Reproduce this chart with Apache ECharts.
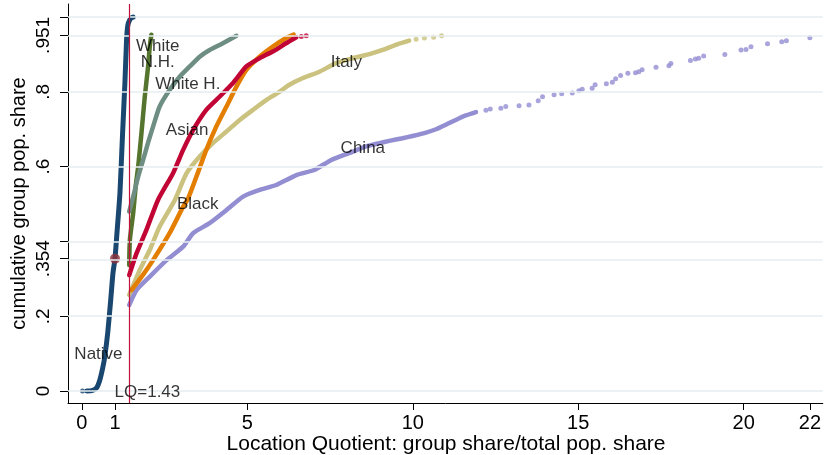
<!DOCTYPE html>
<html>
<head>
<meta charset="utf-8">
<script src="https://cdn.jsdelivr.net/npm/echarts@6/dist/echarts.min.js"></script>
<style>
  html, body { margin: 0; padding: 0; background: #fff; }
  #chart { width: 824px; height: 455px; }
</style>
</head>
<body>
<div id="chart"></div>
<script>
// Axis ticks and labels
const xTicks = [0, 1, 5, 10, 15, 20, 22];
const yTicks = [0, 0.2, 0.354, 0.4, 0.6, 0.8, 0.951, 1];
const yTickLabels = [0, 0.2, 0.354, 0.6, 0.8, 0.951];

// Reference marks
const lqCut = 1.43;
const nativeMedian = [[1, 0.354]];

// Cumulative population share by location quotient, per group
const nativeCurve = [[0.15, 0], [0.30, 0.001], [0.44, 0.008], [0.54, 0.029], [0.63, 0.062], [0.69, 0.091],
  [0.78, 0.155], [0.87, 0.243], [0.94, 0.316], [1.00, 0.354], [1.06, 0.423], [1.15, 0.53], [1.23, 0.69],
  [1.30, 0.824], [1.35, 0.939], [1.39, 0.979], [1.45, 0.993], [1.50, 0.998], [1.55, 1.0]];
const nativeDots = [[0.02, 0]];

const whiteNHCurve = [[1.43, 0.337], [1.45, 0.404], [1.55, 0.476], [1.63, 0.551], [1.70, 0.599], [1.80, 0.690],
  [1.90, 0.787], [2.00, 0.867], [2.05, 0.920], [2.10, 0.953]];

const whiteHCurve = [[1.43, 0.480], [1.55, 0.520], [1.70, 0.573], [1.85, 0.618], [2.00, 0.664], [2.15, 0.707],
  [2.35, 0.761], [2.65, 0.805], [2.96, 0.841], [3.26, 0.868], [3.56, 0.894], [3.86, 0.912], [4.26, 0.930],
  [4.67, 0.950]];

const blackCurve = [[1.50, 0.270], [1.84, 0.310], [2.15, 0.350], [2.65, 0.422], [3.06, 0.493], [3.21, 0.515],
  [3.46, 0.573], [3.76, 0.645], [4.06, 0.707], [4.37, 0.761], [4.67, 0.814], [4.97, 0.859], [5.37, 0.894],
  [5.77, 0.921], [6.17, 0.944], [6.40, 0.953]];

const asianCurve = [[1.43, 0.310], [1.65, 0.368], [1.95, 0.431], [2.30, 0.511], [2.75, 0.582], [3.06, 0.645],
  [3.36, 0.698], [3.76, 0.752], [4.16, 0.787], [4.56, 0.823], [4.97, 0.868], [5.37, 0.890], [5.77, 0.908],
  [6.17, 0.930], [6.48, 0.946]];
const asianDots = [[6.63, 0.948], [6.78, 0.950]];

const italyCurve = [[1.43, 0.257], [1.75, 0.324], [2.05, 0.377], [2.35, 0.440], [2.81, 0.511], [3.16, 0.582],
  [3.56, 0.627], [3.96, 0.663], [4.37, 0.694], [4.77, 0.725], [5.17, 0.752], [5.57, 0.778], [5.97, 0.800],
  [6.27, 0.819], [6.68, 0.837], [7.18, 0.854], [7.68, 0.877], [8.18, 0.890], [8.69, 0.901], [9.09, 0.912],
  [9.49, 0.926], [9.89, 0.937]];
const italyDots = [[10.10, 0.941], [10.35, 0.944], [10.63, 0.946], [10.87, 0.950]];

const chinaCurve = [[1.43, 0.230], [1.65, 0.270], [2.05, 0.306], [2.56, 0.350], [3.06, 0.386], [3.36, 0.422],
  [3.86, 0.449], [4.37, 0.484], [4.87, 0.520], [5.37, 0.538], [5.87, 0.551], [6.50, 0.578], [7.02, 0.591],
  [7.54, 0.618], [8.07, 0.636], [8.59, 0.654], [8.99, 0.663], [9.29, 0.669], [9.69, 0.676], [9.99, 0.682],
  [10.40, 0.691], [10.70, 0.700], [11.00, 0.712], [11.30, 0.725], [11.60, 0.737], [11.91, 0.746]];
const chinaDots = [[12.21, 0.751], [12.34, 0.754], [12.66, 0.756], [12.81, 0.761], [13.21, 0.763], [13.51, 0.765],
  [13.79, 0.776], [13.92, 0.787], [14.27, 0.792], [14.50, 0.795], [14.82, 0.797], [15.02, 0.803], [15.12, 0.807],
  [15.42, 0.810], [15.51, 0.819], [15.85, 0.822], [16.03, 0.826], [16.13, 0.835], [16.28, 0.844], [16.50, 0.850],
  [16.73, 0.851], [16.83, 0.854], [16.93, 0.859], [17.35, 0.866], [17.74, 0.870], [17.80, 0.876], [18.39, 0.884],
  [18.54, 0.888], [18.64, 0.890], [18.79, 0.896], [19.43, 0.900], [19.92, 0.912], [20.07, 0.913], [20.22, 0.921],
  [20.72, 0.929], [21.15, 0.934], [21.29, 0.937], [22.00, 0.945]];

// Group names and where they sit on the chart (data coordinates)
const curveLabels = [
  { text: 'White\nN.H.', at: [2.29, 0.900] },
  { text: 'White H.', at: [3.20, 0.819] },
  { text: 'Asian', at: [3.18, 0.698] },
  { text: 'Black', at: [3.50, 0.500] },
  { text: 'Italy', at: [7.99, 0.880] },
  { text: 'China', at: [8.49, 0.650] },
  { text: 'Native', at: [0.50, 0.099] },
  { text: 'LQ=' + lqCut, at: [1.98, -0.003] }
];

const FONT = '"Liberation Sans", Arial, Helvetica, sans-serif';
const colors = {
  native: '#1a476f', maroon: '#90353b', forest: '#55752f', teal: '#6e8e84',
  orange: '#e37e00', cranberry: '#c10534', khaki: '#cac27e', lavender: '#938dd2',
  cut: '#c0123a', grid: '#e6eef1'
};

function curve(name, data, color, width) {
  return {
    name, type: 'line', data, showSymbol: false, symbol: 'none', silent: true, smooth: 0.2,
    itemStyle: { color },
    lineStyle: { color, width, cap: 'round', join: 'round' }, z: 3
  };
}
function dots(name, data, color, size) {
  return {
    name, type: 'scatter', data, symbol: 'circle', symbolSize: size, silent: true,
    itemStyle: { color }, z: 3
  };
}

const fmt = v => (v === 0 ? '0' : String(v).replace(/^0(?=\.)/, ''));

const chart = echarts.init(document.getElementById('chart'), null, { renderer: 'canvas' });
chart.setOption({
  animation: false,
  backgroundColor: '#ffffff',
  textStyle: { fontFamily: FONT },
  grid: { left: 68, right: 0, top: 4, bottom: 52, containLabel: false },
  xAxis: {
    type: 'value', min: -0.42, max: 22.39,
    axisLine: { show: true, onZero: false, lineStyle: { color: '#000', width: 1 } },
    axisTick: { show: true, customValues: xTicks, length: 7, lineStyle: { color: '#000', width: 1 } },
    axisLabel: { show: true, customValues: xTicks, margin: 10, color: '#000', fontSize: 20, fontFamily: FONT,
      formatter: v => String(v) },
    splitLine: { show: false }
  },
  yAxis: {
    type: 'value', min: -0.032, max: 1.035,
    axisLine: { show: true, onZero: false, lineStyle: { color: '#000', width: 1 } },
    axisTick: { show: true, customValues: yTicks, length: 8, lineStyle: { color: '#000', width: 1 } },
    axisLabel: { show: true, customValues: yTickLabels, rotate: 90, margin: 15, color: '#000', fontSize: 19,
      fontFamily: FONT, formatter: fmt },
    splitLine: { show: false }
  },
  graphic: [
    { type: 'text', x: 19, y: 203.5, rotation: Math.PI / 2, silent: true,
      style: { text: 'cumulative group pop. share', fontSize: 20, fontFamily: FONT, fill: '#000',
        textAlign: 'center', textVerticalAlign: 'middle' } },
    { type: 'text', x: 446, y: 444, silent: true,
      style: { text: 'Location Quotient: group share/total pop. share', fontSize: 21, fontFamily: FONT, fill: '#000',
        textAlign: 'center', textVerticalAlign: 'middle' } }
  ],
  series: [
    {
      name: 'grid', type: 'line', data: [], silent: true,
      itemStyle: { color: colors.grid },
      markLine: {
        silent: true, symbol: 'none', animation: false, label: { show: false },
        lineStyle: { color: colors.grid, width: 1.6, type: 'solid' },
        data: yTicks.map(v => ({ yAxis: v }))
      }, z: 1
    },
    curve('Native', nativeCurve, colors.native, 5),
    dots('Native', nativeDots, colors.native, 5),
    curve('White N.H.', whiteNHCurve, colors.forest, 4.5),
    curve('White H.', whiteHCurve, colors.teal, 4.5),
    curve('Italy', italyCurve, colors.khaki, 4.5),
    dots('Italy', italyDots, colors.khaki, 5),
    curve('China', chinaCurve, colors.lavender, 4.5),
    dots('China', chinaDots, colors.lavender, 5),
    curve('Black', blackCurve, colors.orange, 4.5),
    curve('Asian', asianCurve, colors.cranberry, 4.5),
    dots('Asian', asianDots, colors.cranberry, 5),
    {
      name: 'LQ cut', type: 'line', data: [], silent: true,
      itemStyle: { color: colors.cut },
      markLine: {
        silent: true, symbol: 'none', animation: false, label: { show: false },
        lineStyle: { color: colors.cut, width: 1.2, type: 'solid', opacity: 1 },
        data: [{ xAxis: lqCut, lineStyle: { color: colors.cut } }]
      }, z: 4
    },
    dots('Native median', nativeMedian, colors.maroon, 10),
    {
      name: 'labels', type: 'scatter', silent: true, symbolSize: 1, z: 5,
      itemStyle: { color: 'rgba(0,0,0,0)' },
      data: curveLabels.map(l => ({ value: l.at, name: l.text })),
      label: {
        show: true, position: 'inside', formatter: p => p.name, color: '#000', fontSize: 17,
        fontFamily: FONT, lineHeight: 16, align: 'center', verticalAlign: 'middle'
      }
    }
  ]
});
</script>
</body>
</html>
